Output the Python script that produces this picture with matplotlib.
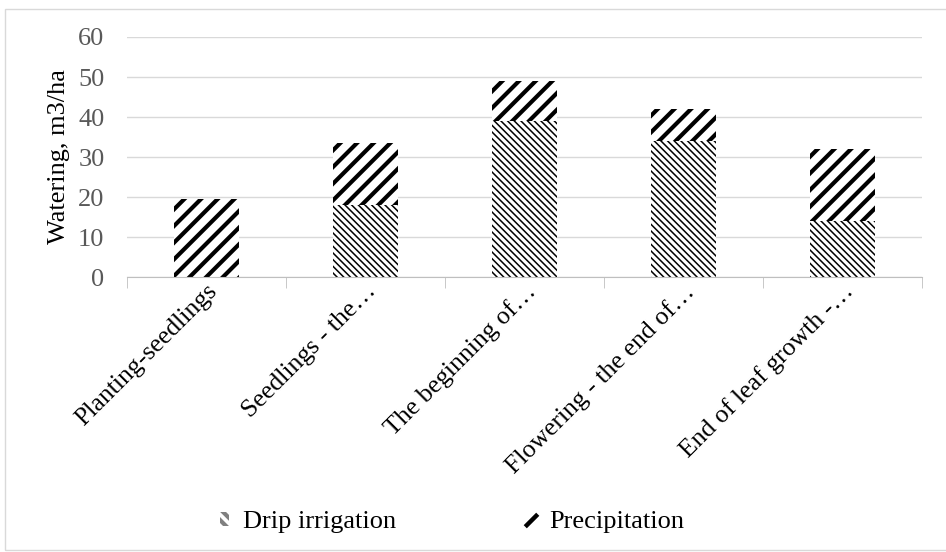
import matplotlib.pyplot as plt
import matplotlib as mpl
from matplotlib.patches import Rectangle
from matplotlib.lines import Line2D
import numpy as np

stages = ['Planting-seedlings', 'Seedlings - the…', 'The beginning of…',
          'Flowering - the end of…', 'End of leaf growth -…']
drip = [0, 18, 39, 34, 14]
precip = [19.5, 15.5, 10, 8, 18]

plt.rcParams['font.family'] = ['Liberation Serif', 'DejaVu Serif']

fig = plt.figure(figsize=(9.46, 5.52), dpi=100)
ax = fig.add_axes([0.134, 0.498, 0.8406, 0.435])

x = np.arange(len(stages))
w = 0.41

# drip irrigation: thin dense hatch
mpl.rcParams['hatch.linewidth'] = 1.1
b1 = ax.bar(x, drip, w, color='white', edgecolor='black', linewidth=0,
            hatch='\\' * 5, label='Drip irrigation')
# precipitation: thick wide hatch
mpl.rcParams['hatch.linewidth'] = 3.0
b2 = ax.bar(x, precip, w, bottom=drip, color='white', edgecolor='black',
            linewidth=0, hatch='//', label='Precipitation')
for p in b1:
    p.set_hatch_linewidth(1.1)
for p in b2:
    p.set_hatch_linewidth(3.0)

ax.set_ylim(0, 60)
ax.set_xlim(-0.5, len(stages) - 0.5)
ax.set_yticks(range(0, 61, 10))
ax.yaxis.grid(True, color='#d9d9d9', linewidth=1)
ax.set_axisbelow(True)
for s in ['top', 'right', 'left']:
    ax.spines[s].set_visible(False)
ax.spines['bottom'].set_color('#bfbfbf')
ax.tick_params(axis='y', length=0, labelsize=19, labelcolor='#595959', pad=16)

ax.set_xticks(x)
ax.set_xticklabels(stages, rotation=45, ha='right', rotation_mode='anchor',
                   fontsize=18.5, color='black')
ax.set_xticks(np.arange(-0.5, len(stages), 1), minor=True)
ax.tick_params(axis='x', which='major', length=0, pad=2)
ax.tick_params(axis='x', which='minor', length=8, color='#bfbfbf')

ax.set_ylabel('Watering, m3/ha', fontsize=19, labelpad=6)

h1 = Rectangle((0, 0), 1, 1, facecolor='white', hatch='\\\\\\', edgecolor='#808080', linewidth=0)
h2 = Line2D([], [], marker=[(-1, -1), (1, 1)], markersize=9, markeredgewidth=3.2,
            color='black', linestyle='none')
fig.legend([h1, h2], ['Drip irrigation', 'Precipitation'], loc='center',
           bbox_to_anchor=(0.478, 0.054), ncol=2, frameon=False, fontsize=19,
           handlelength=0.35, handleheight=0.45, handletextpad=0.55, columnspacing=4.9)

fig.patches.append(Rectangle((5 / 946, 0.004), 0.998, 1 - 9 / 552 - 0.004,
                             transform=fig.transFigure, fill=False,
                             edgecolor='#d9d9d9', linewidth=1))

fig.savefig('out.png', dpi=100)
